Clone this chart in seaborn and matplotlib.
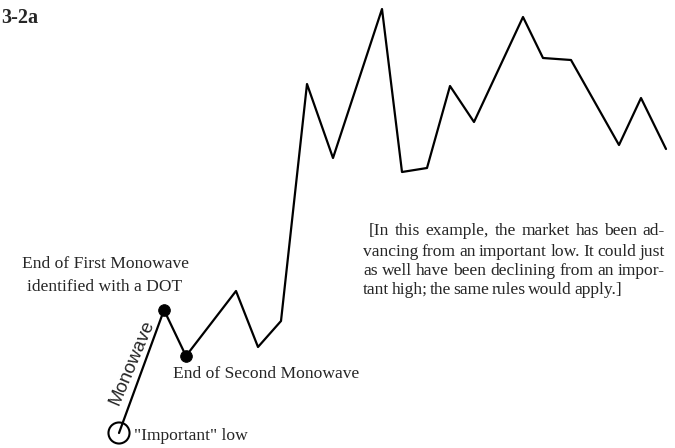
import matplotlib

matplotlib.use("Agg")
import matplotlib.pyplot as plt
import numpy as np
import pandas as pd
import seaborn as sns

# 価格の推移（時間軸, 価格）
time = [119, 164, 186, 236, 258, 281, 307, 333, 382, 402, 427, 450, 474, 523, 543, 571, 619, 641, 666]
price = [15, 138, 92, 157, 101, 127, 364, 290, 439, 276, 280, 362, 326, 431, 390, 388, 303, 350, 299]

low_idx = [0]          # "Important" low
dot_idx = [1, 2]       # end of first / second monowave

note_lines = [
    "[In this example, the market has been ad-",
    "vancing from an important low. It could just",
    "as well have been declining from an impor-",
    "tant high; the same rules would apply.]",
]

SERIF = ["Liberation Serif", "DejaVu Serif"]
SANS = ["Liberation Sans", "DejaVu Sans"]

sns.set_theme(style="white")
plt.rcParams["font.family"] = SERIF

df = pd.DataFrame({"time": time, "price": price})

fig = plt.figure(figsize=(6.75, 4.48), dpi=100)
ax = fig.add_axes([0, 0, 1, 1])
ax.set_xlim(0, 675)
ax.set_ylim(0, 448)
ax.axis("off")

sns.lineplot(data=df, x="time", y="price", ax=ax, color="black", lw=1.6,
             estimator=None, sort=False)
sns.scatterplot(data=df.iloc[dot_idx], x="time", y="price", ax=ax, color="black",
                s=70, edgecolor="black", zorder=3)
sns.scatterplot(data=df.iloc[low_idx], x="time", y="price", ax=ax, s=230,
                facecolor="none", edgecolor="black", linewidth=1.5, zorder=3)


def px(x, y):
    """ピクセル座標 → 軸座標"""
    return x / 675, 1 - y / 448


fs = 12.6
ax.text(*px(1, 18), "3-2a", transform=ax.transAxes, fontsize=14.5, fontweight="bold",
        ha="left", va="center")
ax.text(*px(105, 264), "End of First Monowave", transform=ax.transAxes, fontsize=fs,
        ha="center", va="center")
ax.text(*px(105, 287), "identified with a DOT", transform=ax.transAxes, fontsize=fs,
        ha="center", va="center")
ax.text(*px(173, 374), "End of Second Monowave", transform=ax.transAxes, fontsize=fs,
        ha="left", va="center")
ax.text(*px(134, 436), "\"Important\" low", transform=ax.transAxes, fontsize=fs,
        ha="left", va="center")
ax.text(*px(132, 363), "Monowave", transform=ax.transAxes, fontsize=13.5, family=SANS,
        rotation=67, ha="center", va="center", rotation_mode="anchor")

# 両端揃えの注記
renderer = fig.canvas.get_renderer()
left, right = 363, 665
line_y = [231, 252, 271, 290]
for i, (line, y) in enumerate(zip(note_lines, line_y)):
    words = line.split(" ")
    x0 = 369 if i == 0 else left
    x1 = right if i < len(note_lines) - 1 else 622
    artists = [ax.text(0, 0, w, fontsize=fs, transform=ax.transAxes, ha="left", va="center")
               for w in words]
    widths = [a.get_window_extent(renderer).width for a in artists]
    gap = max(2.0, (x1 - x0 - sum(widths)) / (len(words) - 1))
    x = x0
    for a, w in zip(artists, widths):
        a.set_position(px(x, y))
        x += w + gap

fig.savefig("out.png", dpi=100)
